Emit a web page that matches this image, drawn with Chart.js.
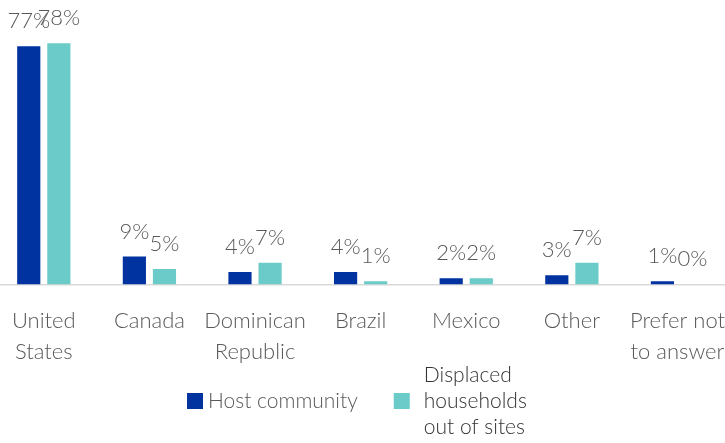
<!DOCTYPE html>
<html>
<head>
<meta charset="utf-8">
<script src="https://cdn.jsdelivr.net/npm/chart.js@4.4.1/dist/chart.umd.min.js"></script>
<style>
  html, body { margin: 0; padding: 0; background: #fff; overflow: hidden; }
  #wrap { position: absolute; left: -9px; top: 0; width: 755px; height: 443px; }
</style>
</head>
<body>
<div id="wrap"><canvas id="myChart" width="755" height="443"></canvas></div>
<script>
var categories = [
  ["United", "States"],
  "Canada",
  ["Dominican", "Republic"],
  "Brazil",
  "Mexico",
  "Other",
  ["Prefer not", "to answer"]
];
var seriesNames = ["Host community", "Displaced households out of sites"];
var hostValues = [77, 9, 4, 4, 2, 3, 1];
var displacedValues = [78, 5, 7, 1, 2, 7, 0];

var FONT = "Lato, 'Open Sans', sans-serif";
var GREY = "#595959";

// percentage labels above each bar
var valueLabels = {
  id: "valueLabels",
  afterDatasetsDraw: function (chart) {
    var ctx = chart.ctx;
    ctx.save();
    ctx.font = "300 22px " + FONT;
    ctx.fillStyle = GREY;
    ctx.textAlign = "center";
    ctx.textBaseline = "alphabetic";
    chart.data.datasets.forEach(function (ds, i) {
      chart.getDatasetMeta(i).data.forEach(function (bar, j) {
        ctx.fillText(ds.data[j] + "%", bar.x, bar.y - 18);
      });
    });
    ctx.restore();
  }
};

// legend with the long label wrapped over three lines
var wrappedLegend = {
  id: "wrappedLegend",
  afterDraw: function (chart) {
    var ctx = chart.ctx;
    var sq = 16, lineH = 26, cy = 401;
    ctx.save();
    ctx.font = "300 21px " + FONT;
    ctx.textBaseline = "middle";
    var x = 196;
    chart.data.datasets.forEach(function (ds, i) {
      var lines = i === 0 ? [ds.label] : ["Displaced", "households", "out of sites"];
      var gap = i === 0 ? 5 : 14;
      var w = Math.max.apply(null, lines.map(function (l) { return ctx.measureText(l).width; }));
      ctx.fillStyle = ds.backgroundColor;
      ctx.fillRect(x, cy - sq / 2, sq, sq);
      ctx.fillStyle = i === 0 ? GREY : "#333333";
      ctx.textAlign = "left";
      var y0 = cy - (lines.length - 1) / 2 * lineH;
      lines.forEach(function (l, k) {
        ctx.fillText(l, x + sq + gap, y0 + k * lineH);
      });
      x += sq + gap + w + 36;
    });
    ctx.restore();
  }
};

var ctx = document.getElementById("myChart").getContext("2d");
var myChart = new Chart(ctx, {
  type: "bar",
  data: {
    labels: categories,
    datasets: [
      {
        label: seriesNames[0],
        data: hostValues,
        backgroundColor: "#0033A0"
      },
      {
        label: seriesNames[1],
        data: displacedValues,
        backgroundColor: "#6BCBC8"
      }
    ]
  },
  options: {
    responsive: false,
    animation: false,
    layout: { padding: { top: 0, bottom: 55, left: 0, right: 0 } },
    categoryPercentage: 0.57,
    barPercentage: 0.77,
    plugins: {
      legend: { display: false },
      tooltip: { enabled: false }
    },
    scales: {
      x: {
        grid: { display: false, drawTicks: false },
        border: { display: true, color: "#d9d9d9", width: 1.5 },
        ticks: {
          color: GREY,
          padding: 21,
          maxRotation: 0,
          autoSkip: false,
          font: { family: FONT, size: 22, weight: "300", lineHeight: 1.4 }
        }
      },
      y: {
        display: false,
        min: 0,
        max: 92
      }
    }
  },
  plugins: [valueLabels, wrappedLegend]
});
</script>
</body>
</html>
